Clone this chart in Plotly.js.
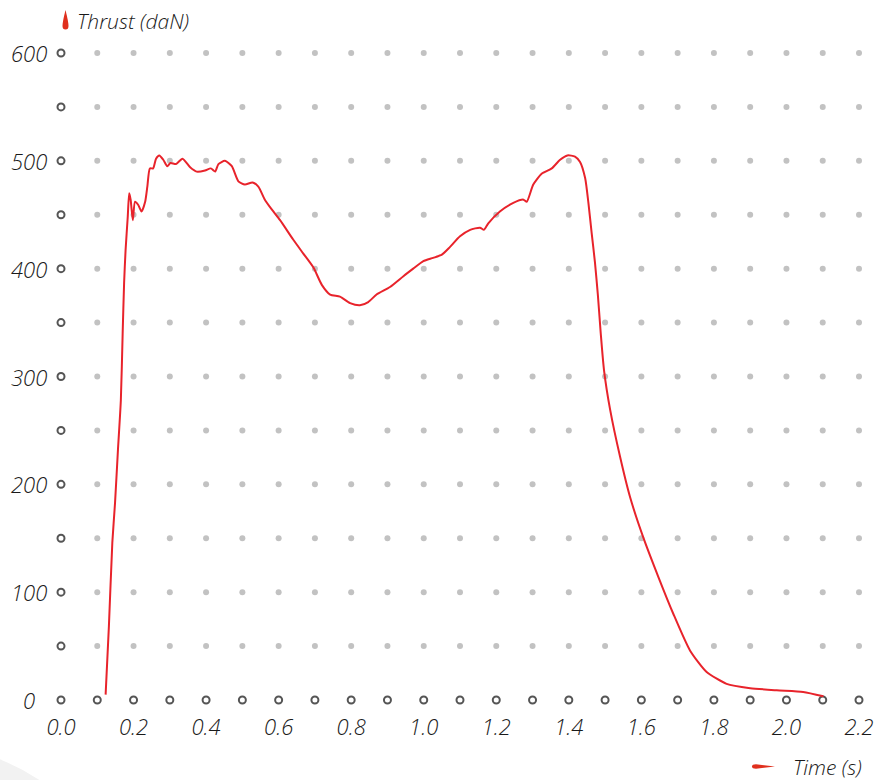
<!DOCTYPE html>
<html>
<head>
<meta charset="utf-8">
<script src="https://cdn.plot.ly/plotly-3.0.1.min.js"></script>
<style>
  html, body { margin: 0; padding: 0; background: #ffffff; }
  #chart { width: 876px; height: 780px; }
</style>
</head>
<body>
<div id="chart"></div>
<script>
// ---- data ----
const time = [0.123, 0.132, 0.1415, 0.149, 0.157, 0.165, 0.170, 0.174, 0.178, 0.184,
  0.188, 0.192, 0.198, 0.204, 0.213, 0.222, 0.232, 0.238, 0.245, 0.254,
  0.262, 0.271, 0.282, 0.293, 0.302, 0.317, 0.335, 0.356, 0.374, 0.397,
  0.413, 0.425, 0.434, 0.452, 0.471, 0.489, 0.507, 0.528, 0.544, 0.562,
  0.581, 0.604, 0.640, 0.668, 0.696, 0.719, 0.742, 0.769, 0.797, 0.824,
  0.847, 0.870, 0.907, 0.944, 0.971, 0.999, 1.026, 1.050, 1.072, 1.100,
  1.128, 1.155, 1.166, 1.178, 1.210, 1.247, 1.275, 1.284, 1.302, 1.325,
  1.353, 1.376, 1.396, 1.417, 1.431, 1.445, 1.454, 1.463, 1.472, 1.480,
  1.488, 1.497, 1.514, 1.541, 1.569, 1.605, 1.647, 1.688, 1.734, 1.780,
  1.835, 1.900, 1.973, 2.046, 2.102];
const thrust = [5, 68, 146, 183, 232, 278, 340, 387, 417, 448,
  470, 464, 445, 462, 459, 453, 462, 476, 493, 493,
  502, 505, 501, 495, 498, 497, 502, 494, 490, 491,
  493, 490, 497, 500, 495, 481, 478, 480, 476, 464,
  455, 445, 427, 414, 401, 385, 376, 374, 368, 366,
  369, 376, 383, 393, 400, 407, 410, 413, 420, 430,
  436, 438, 436, 442, 453, 461, 464, 462, 478, 488,
  493, 501, 505, 504, 499, 484, 461, 433, 406, 376,
  340, 306, 269, 226, 188, 151, 114, 80, 46, 26,
  15, 11, 9, 7.5, 3.5];

const xTickVals = [0.0, 0.2, 0.4, 0.6, 0.8, 1.0, 1.2, 1.4, 1.6, 1.8, 2.0, 2.2];
const xTickText = ["0.0", "0.2", "0.4", "0.6", "0.8", "1.0", "1.2", "1.4", "1.6", "1.8", "2.0", "2.2"];
const yTickVals = [0, 100, 200, 300, 400, 500, 600];
const yTickText = ["0", "100", "200", "300", "400", "500", "600"];
const gridXs = [0, 0.1, 0.2, 0.3, 0.4, 0.5, 0.6, 0.7, 0.8, 0.9, 1.0, 1.1, 1.2, 1.3, 1.4, 1.5, 1.6, 1.7, 1.8, 1.9, 2.0, 2.1, 2.2];
const gridYs = [0, 50, 100, 150, 200, 250, 300, 350, 400, 450, 500, 550, 600];
const xTitle = "Time (s)";
const yTitle = "Thrust (daN)";

// ---- layout geometry ----
const W = 876, H = 780;
const M = {l: 61, r: 17, t: 53, b: 80};
const PW = W - M.l - M.r, PH = H - M.t - M.b;
function px(x) { return (x - M.l) / PW; }
function py(y) { return (H - M.b - y) / PH; }

// grid dots (decoration)
const axDotX = [], axDotY = [], dotX = [], dotY = [];
gridXs.forEach(gx => gridYs.forEach(gy => {
  if (gx === 0 || gy === 0) { axDotX.push(gx); axDotY.push(gy); }
  else { dotX.push(gx); dotY.push(gy); }
}));

const font = "'Open Sans', sans-serif";
const textColor = "#1a1a1a";
const red = "#e8232b";
const txtFont = (s) => ({family: font, size: s, color: textColor, style: "italic", weight: 300});

const traces = [
  {x: dotX, y: dotY, type: "scatter", mode: "markers", hoverinfo: "skip", cliponaxis: false,
   marker: {symbol: "circle", size: 6, color: "#c2c2c2"}},
  {x: axDotX, y: axDotY, type: "scatter", mode: "markers", hoverinfo: "skip", cliponaxis: false,
   marker: {symbol: "circle-open", size: 7, color: "#555555", line: {width: 2, color: "#555555"}}},
  {x: time, y: thrust, type: "scatter", mode: "lines", cliponaxis: false,
   line: {color: red, width: 2, shape: "spline", smoothing: 0.6}}
];

const annotations = yTickVals.map((v, i) => ({
  text: yTickText[i], xref: "paper", x: px(29), yref: "y", y: v,
  xanchor: "center", yanchor: "middle", showarrow: false,
  font: txtFont(22)
}));
annotations.push({
  text: yTitle, xref: "paper", yref: "paper", x: px(75), y: py(21),
  xanchor: "left", yanchor: "middle", showarrow: false,
  font: txtFont(21)
});
annotations.push({
  text: xTitle, xref: "paper", yref: "paper", x: px(864), y: py(767),
  xanchor: "right", yanchor: "middle", showarrow: false,
  font: txtFont(21)
});

function pathFromPx(pts) {
  return pts.map(p => px(p[0]).toFixed(5) + "," + py(p[1]).toFixed(5)).join(" ");
}
// vertical drop (tip up) and horizontal drop (tip right)
const dropV = "M " + pathFromPx([[65.5, 10]]) + " Q " + pathFromPx([[68.5, 22], [68.5, 26]]) +
  " Q " + pathFromPx([[68.5, 29.5], [65.5, 29.5]]) + " Q " + pathFromPx([[62.5, 29.5], [62.5, 26]]) +
  " Q " + pathFromPx([[62.5, 22], [65.5, 10]]) + " Z";
const dropH = "M " + pathFromPx([[775, 766.5]]) + " L " + pathFromPx([[756, 764.3]]) +
  " Q " + pathFromPx([[752, 764.3], [752, 766.5]]) + " Q " + pathFromPx([[752, 768.7], [756, 768.7]]) + " Z";

const shapes = [
  {type: "circle", xref: "paper", yref: "paper", layer: "below",
   x0: px(-296), x1: px(136), y0: py(1176), y1: py(744),
   fillcolor: "#f2f2f2", line: {width: 0}},
  {type: "path", xref: "paper", yref: "paper", path: dropV, fillcolor: "#e0301e", line: {width: 0}},
  {type: "path", xref: "paper", yref: "paper", path: dropH, fillcolor: "#e0301e", line: {width: 0}}
];

const layout = {
  width: W, height: H,
  margin: M,
  paper_bgcolor: "#ffffff", plot_bgcolor: "rgba(0,0,0,0)",
  showlegend: false,
  xaxis: {
    range: [0, 2.2], showgrid: false, zeroline: false, showline: false,
    tickmode: "array", tickvals: xTickVals, ticktext: xTickText, ticks: "",
    ticklabelstandoff: 12,
    tickfont: txtFont(22)
  },
  yaxis: {
    range: [0, 600], showgrid: false, zeroline: false, showline: false,
    showticklabels: false, ticks: ""
  },
  annotations: annotations,
  shapes: shapes
};

Plotly.newPlot("chart", traces, layout, {displayModeBar: false, staticPlot: true});
</script>
</body>
</html>
